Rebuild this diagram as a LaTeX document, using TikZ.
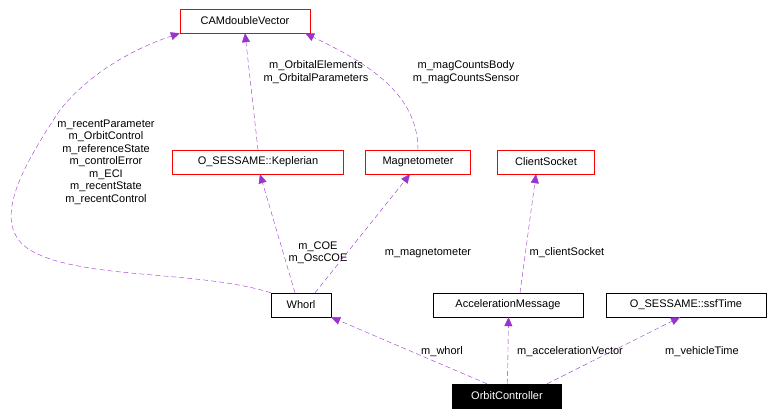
\documentclass[tikz,border=0pt]{standalone}
\usepackage{fontspec}
\setmainfont{Liberation Sans}
\usetikzlibrary{arrows.meta}
\begin{document}
\begin{tikzpicture}[x=1pt,y=-1pt,
  box/.style={draw=black,fill=white,minimum height=24pt,inner xsep=6pt,font=\fontsize{11}{12}\selectfont},
  rbox/.style={box,draw=red},
  edge/.style={draw={rgb,255:red,154;green,50;blue,205},dashed,dash pattern=on 5pt off 3pt,-{Triangle[length=9pt,width=8pt,fill={rgb,255:red,154;green,50;blue,205}]}},
  lab/.style={font=\fontsize{11}{12.5}\selectfont,align=center,inner sep=1pt}]
\useasboundingbox (0,0) rectangle (781,417);
\node[rbox,minimum width=130pt] (cam) at (245,21) {CAMdoubleVector};
\node[rbox,minimum width=171pt] (kep) at (258,162) {O\_SESSAME::Keplerian};
\node[rbox,minimum width=105pt] (mag) at (418,162) {Magnetometer};
\node[rbox,minimum width=97pt] (cs) at (546,162) {ClientSocket};
\node[box,minimum width=60pt] (wh) at (301,305) {Whorl};
\node[box,minimum width=150pt] (am) at (508,305) {AccelerationMessage};
\node[box,minimum width=160pt] (ssf) at (686,305) {O\_SESSAME::ssfTime};
\node[box,fill=black,text=white,minimum width=109pt] (oc) at (507,396) {OrbitController};
\draw[edge] (wh.north west) .. controls (200,270) and (80,280) .. (30,250) .. controls (-10,225) and (20,170) .. (60,110) .. controls (100,60) and (160,40) .. (cam.south west);
\node[lab] at (106,162) {m\_recentParameter\\m\_OrbitControl\\m\_referenceState\\m\_controlError\\m\_ECI\\m\_recentState\\m\_recentControl};
\draw[edge] (kep.north) -- (cam.south);
\node[lab] at (316,72) {m\_OrbitalElements\\m\_OrbitalParameters};
\draw[edge] (mag.north) .. controls (418,90) and (360,60) .. ([xshift=-5pt]cam.south east);
\node[lab] at (466,72) {m\_magCountsBody\\m\_magCountsSensor};
\draw[edge] ([xshift=-6pt]wh.north) -- ([xshift=2pt]kep.south);
\node[lab] at (318,253) {m\_COE\\m\_OscCOE};
\draw[edge] ([xshift=14pt]wh.north) -- ([xshift=-8pt]mag.south);
\node[lab] at (428,253) {m\_magnetometer};
\draw[edge] ([xshift=12pt]am.north) -- ([xshift=-10pt]cs.south);
\node[lab] at (567,253) {m\_clientSocket};
\draw[edge] ([xshift=-20pt]oc.north) -- (wh.south east);
\node[lab] at (442,352) {m\_whorl};
\draw[edge] ([xshift=0.5pt]oc.north) -- ([xshift=0.5pt]am.south);
\node[lab] at (570,352) {m\_accelerationVector};
\draw[edge] ([xshift=40pt]oc.north) -- ([xshift=-6pt]ssf.south);
\node[lab] at (702,352) {m\_vehicleTime};
\end{tikzpicture}
\end{document}
